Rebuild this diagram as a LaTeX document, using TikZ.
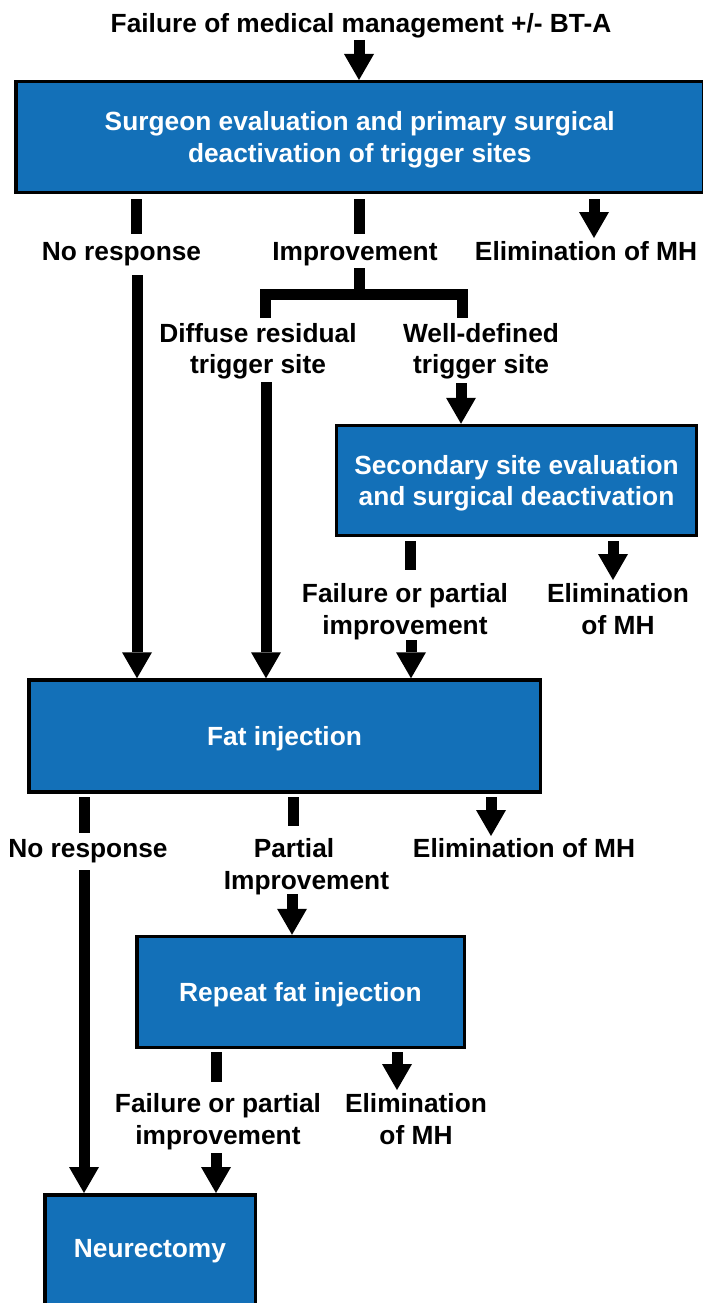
\documentclass[tikz,border=0pt]{standalone}
\usepackage{fontspec}
\setmainfont{Liberation Sans}
\usetikzlibrary{arrows.meta}
\definecolor{boxblue}{RGB}{19,112,184}
\newcommand{\ls}{\rule[-5.5pt]{0pt}{30pt}}
\begin{document}
\begin{tikzpicture}[x=1pt,y=-1pt,
  every node/.style={font=\fontsize{26.3pt}{31.5pt}\selectfont\bfseries},
  box/.style={draw=black,line width=3.5pt,fill=boxblue,text=white,align=center,inner sep=0pt},
  lbl/.style={text=black,align=center,inner sep=0pt,outer sep=0pt},
  bar/.style={line width=11pt,draw=black},
  brk/.style={line width=11pt,draw=black,line join=miter},
  arr/.style={line width=11pt,draw=black,-{Triangle[width=30pt,length=26pt,line width=0pt]}}]
\useasboundingbox (0,0) rectangle (702,1303);
\fill[white] (0,0) rectangle (702,1303);

% nodes
\node[lbl] (title) at (361,23.5) {\ls Failure of medical management +/- BT-A};
\node[box,minimum width=688pt,minimum height=110.5pt] (box1) at (359.75,137)
  {\ls Surgeon evaluation and primary surgical\\\ls deactivation of trigger sites};
\node[lbl] (nr1) at (121.5,251) {\ls No response};
\node[lbl] (imp) at (355,251) {\ls Improvement};
\node[lbl] (el1) at (586,251) {\ls Elimination of MH};
\node[lbl] (dif) at (258,348.5) {\ls Diffuse residual\\\ls trigger site};
\node[lbl] (wd) at (481,348.5) {\ls Well-defined\\\ls trigger site};
\node[box,minimum width=360pt,minimum height=110pt] (sec) at (516.5,480.5)
  {\ls Secondary site evaluation\\\ls and surgical deactivation};
\node[lbl] (fl1) at (405,609) {\ls Failure or partial\\\ls improvement};
\node[lbl] (em1) at (618,609) {\ls Elimination\\\ls of MH};
\node[box,minimum width=511.5pt,minimum height=112pt] (fat) at (284.5,736) {\ls Fat injection};
\node[lbl] (nr2) at (88,848) {\ls No response};
\node[lbl] (pi) at (306.5,864) {\ls Partial\hspace*{25pt}\\\ls Improvement};
\node[lbl] (el2) at (524,848) {\ls Elimination of MH};
\node[box,minimum width=327.5pt,minimum height=111pt] (rep) at (300.5,992) {\ls Repeat fat injection};
\node[lbl] (fl2) at (218,1119) {\ls Failure or partial\\\ls improvement};
\node[lbl] (em2) at (416,1119) {\ls Elimination\\\ls of MH};
\node[box,minimum width=210.5pt,minimum height=130pt,anchor=north] (neur) at (150,1193) {};
\node[lbl,text=white] (neurt) at (150,1248) {\ls Neurectomy};

% coordinates for free ends
\coordinate (t1) at (359,40);
\coordinate (a1) at (136.5,199); \coordinate (a1e) at (136.5,234);
\coordinate (a2) at (359.5,199); \coordinate (a2e) at (359.5,234);
\coordinate (a3) at (594,199);   \coordinate (a3e) at (594,238);
\coordinate (l1) at (137,275);
\coordinate (k0) at (359.5,268); \coordinate (k1) at (359.5,299);
\coordinate (kl) at (265.5,318); \coordinate (kr) at (462.5,318);
\coordinate (kh) at (0,294);
\coordinate (d1) at (266,382);
\coordinate (w1) at (461,383);
\coordinate (b1) at (410.5,541); \coordinate (b1e) at (410.5,570);
\coordinate (b2) at (613,541);   \coordinate (b2e) at (613,580);
\coordinate (f1) at (411,640);
\coordinate (c1) at (84,797);  \coordinate (c1e) at (84,833);
\coordinate (c2) at (293,797); \coordinate (c2e) at (293,826);
\coordinate (c3) at (491,797); \coordinate (c3e) at (491,836);
\coordinate (l2) at (84,870);
\coordinate (p1) at (292,894);
\coordinate (r1) at (216,1052); \coordinate (r1e) at (216,1082);
\coordinate (r2) at (397,1052); \coordinate (r2e) at (397,1090);
\coordinate (f2) at (216,1153);

% connectors
\draw[arr] (t1) -- (t1 |- box1.north);
\draw[bar] (a1) -- (a1e);
\draw[bar] (a2) -- (a2e);
\draw[arr] (a3) -- (a3e);
\draw[arr] (l1) -- (l1 |- fat.north);
\draw[bar] (k0) -- (k1);
\draw[brk] (kl) -- (kl |- kh) -- (kr |- kh) -- (kr);
\draw[arr] (d1) -- (d1 |- fat.north);
\draw[arr] (w1) -- (w1 |- sec.north);
\draw[bar] (b1) -- (b1e);
\draw[arr] (b2) -- (b2e);
\draw[arr] (f1) -- (f1 |- fat.north);
\draw[bar] (c1) -- (c1e);
\draw[bar] (c2) -- (c2e);
\draw[arr] (c3) -- (c3e);
\draw[arr] (l2) -- (l2 |- neur.north);
\draw[arr] (p1) -- (p1 |- rep.north);
\draw[bar] (r1) -- (r1e);
\draw[arr] (r2) -- (r2e);
\draw[arr] (f2) -- (f2 |- neur.north);
\end{tikzpicture}
\end{document}
